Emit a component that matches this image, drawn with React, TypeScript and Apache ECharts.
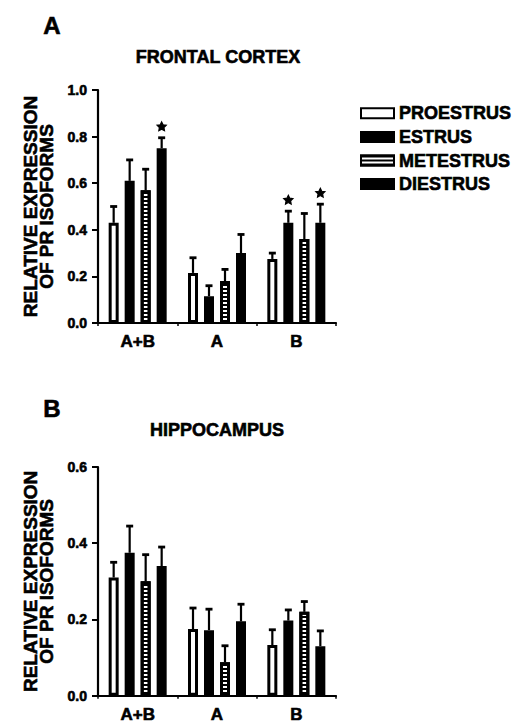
import React, { useEffect, useRef } from 'react';
import * as echarts from 'echarts';

const FONT = "'Liberation Sans', Arial, Helvetica, sans-serif";

const categories = ['A+B', 'A', 'B'];
const stages = ['PROESTRUS', 'ESTRUS', 'METESTRUS', 'DIESTRUS'];

// Frontal cortex: means and upper SEM
const frontalProestrus = [0.43, 0.215, 0.275];
const frontalEstrus = [0.61, 0.115, 0.43];
const frontalMetestrus = [0.57, 0.18, 0.36];
const frontalDiestrus = [0.75, 0.3, 0.43];
const frontalProestrusErr = [0.07, 0.065, 0.025];
const frontalEstrusErr = [0.09, 0.045, 0.05];
const frontalMetestrusErr = [0.09, 0.05, 0.11];
const frontalDiestrusErr = [0.045, 0.08, 0.08];
const frontalProestrusSig = [0, 0, 0];
const frontalEstrusSig = [0, 0, 1];
const frontalMetestrusSig = [0, 0, 0];
const frontalDiestrusSig = [1, 0, 1];

// Hippocampus: means and upper SEM
const hippoProestrus = [0.31, 0.175, 0.133];
const hippoEstrus = [0.375, 0.172, 0.197];
const hippoMetestrus = [0.3, 0.088, 0.22];
const hippoDiestrus = [0.34, 0.195, 0.13];
const hippoProestrusErr = [0.04, 0.055, 0.04];
const hippoEstrusErr = [0.07, 0.055, 0.028];
const hippoMetestrusErr = [0.07, 0.043, 0.027];
const hippoDiestrusErr = [0.05, 0.045, 0.04];
const noSig = [0, 0, 0];

const frontalYTicks = { min: 0, max: 1.0, interval: 0.2 };
const hippoYTicks = { min: 0, max: 0.6, interval: 0.2 };

const BAR_W = 10;
const BAR_GAP = 0.6;
const HEAVY = { textBorderColor: '#000', textBorderWidth: 0.6 };

const stageStyles: any[] = [
  { color: '#ffffff', borderColor: '#000', borderWidth: 3 },
  { color: '#000000', borderColor: '#000', borderWidth: 3 },
  {
    color: '#ffffff',
    borderColor: '#000',
    borderWidth: 3,
    decal: {
      symbol: 'rect',
      symbolSize: 1,
      dashArrayX: [1, 0],
      dashArrayY: [2, 2],
      rotation: 0,
      color: '#000000',
      backgroundColor: null,
    },
  },
  { color: '#000000', borderColor: '#000', borderWidth: 3 },
];

function errRender(stageIdx: number) {
  return (params: any, api: any) => {
    const cat = api.value(0);
    const mean = api.value(1);
    const hi = api.value(2);
    const sig = api.value(3);
    const base = api.coord([cat, mean]);
    const top = api.coord([cat, hi]);
    const step = BAR_W * (1 + BAR_GAP);
    const x = base[0] + (stageIdx - 1.5) * step;
    const children: any[] = [
      {
        type: 'line',
        shape: { x1: x, y1: base[1], x2: x, y2: top[1] },
        style: { stroke: '#000', lineWidth: 2.2 },
      },
      {
        type: 'line',
        shape: { x1: x - 3.5, y1: top[1], x2: x + 3.5, y2: top[1] },
        style: { stroke: '#000', lineWidth: 2.8 },
      },
    ];
    if (sig) {
      const cy = top[1] - 11;
      const pts: number[][] = [];
      for (let k = 0; k < 10; k++) {
        const r = k % 2 ? 2.4 : 4.8;
        const a = -Math.PI / 2 + (k * Math.PI) / 5;
        pts.push([x + r * Math.cos(a), cy + r * Math.sin(a)]);
      }
      children.push({
        type: 'polygon',
        shape: { points: pts },
        style: { fill: '#000', stroke: '#000', lineWidth: 1.2 },
      });
    }
    return { type: 'group', children };
  };
}

function buildSeries(
  gridIdx: number,
  means: number[][],
  errs: number[][],
  sigs: number[][]
) {
  const out: any[] = [];
  means.forEach((m, i) => {
    out.push({
      type: 'bar',
      name: stages[i],
      xAxisIndex: gridIdx,
      yAxisIndex: gridIdx,
      data: m,
      barWidth: BAR_W,
      barGap: BAR_GAP * 100 + '%',
      itemStyle: stageStyles[i],
      emphasis: { disabled: true },
    });
  });
  means.forEach((m, i) => {
    out.push({
      type: 'custom',
      xAxisIndex: gridIdx,
      yAxisIndex: gridIdx,
      renderItem: errRender(i),
      encode: { x: 0, y: [1, 2] },
      data: m.map((v, j) => [j, v, v + errs[i][j], sigs[i][j]]),
      z: 3,
      silent: true,
    });
  });
  return out;
}

function xAxis(gridIdx: number) {
  return {
    type: 'category',
    gridIndex: gridIdx,
    data: categories,
    axisLine: { lineStyle: { color: '#000', width: 2.2 } },
    axisTick: { show: true, length: 3, lineStyle: { color: '#000', width: 1.5 } },
    axisLabel: {
      color: '#000',
      fontSize: 17,
      fontWeight: 'bold',
      fontFamily: FONT,
      margin: 10,
      ...HEAVY,
    },
  };
}

function yAxis(gridIdx: number, ticks: any) {
  return {
    type: 'value',
    gridIndex: gridIdx,
    min: ticks.min,
    max: ticks.max,
    interval: ticks.interval,
    name: 'RELATIVE EXPRESSION\nOF PR ISOFORMS',
    nameLocation: 'middle',
    nameRotate: 90,
    nameGap: 44,
    nameTextStyle: {
      color: '#000',
      fontSize: 19,
      fontWeight: 'bold',
      fontFamily: FONT,
      lineHeight: 16,
      ...HEAVY,
    },
    axisLine: { show: true, lineStyle: { color: '#000', width: 2.2 } },
    axisTick: { show: true, length: 6, lineStyle: { color: '#000', width: 2 } },
    splitLine: { show: false },
    axisLabel: {
      color: '#000',
      fontSize: 14,
      fontWeight: 'bold',
      fontFamily: FONT,
      margin: 11,
      formatter: (v: number) => v.toFixed(1),
      ...HEAVY,
    },
  };
}

export default function App() {
  const ref = useRef<HTMLDivElement>(null);
  useEffect(() => {
    document.body.style.margin = '0';
    const chart = echarts.init(ref.current!, null, { renderer: 'svg' });
    const option: any = {
      animation: false,
      backgroundColor: '#ffffff',
      textStyle: { fontFamily: FONT },
      grid: [
        { left: 98, top: 90, width: 238, height: 233 },
        { left: 98, top: 467, width: 238, height: 231 },
      ],
      xAxis: [xAxis(0), xAxis(1)],
      yAxis: [yAxis(0, frontalYTicks), yAxis(1, hippoYTicks)],
      legend: {
        data: stages,
        orient: 'vertical',
        left: 355,
        top: 99,
        itemWidth: 33,
        itemHeight: 10,
        itemGap: 5,
        icon: 'rect',
        selectedMode: false,
        textStyle: {
          color: '#000',
          fontSize: 18,
          fontWeight: 'bold',
          fontFamily: FONT,
          ...HEAVY,
        },
      },
      graphic: [
        {
          type: 'text',
          left: 43,
          top: 13,
          style: { text: 'A', fill: '#000', font: `bold 24px ${FONT}`, stroke: '#000', lineWidth: 0.6 },
        },
        {
          type: 'text',
          x: 218,
          y: 57,
          style: {
            text: 'FRONTAL CORTEX',
            fill: '#000',
            font: `bold 18px ${FONT}`,
            align: 'center',
            verticalAlign: 'middle',
            stroke: '#000',
            lineWidth: 0.6,
          },
        },
        {
          type: 'text',
          left: 43,
          top: 396,
          style: { text: 'B', fill: '#000', font: `bold 24px ${FONT}`, stroke: '#000', lineWidth: 0.6 },
        },
        {
          type: 'text',
          x: 217,
          y: 430,
          style: {
            text: 'HIPPOCAMPUS',
            fill: '#000',
            font: `bold 18px ${FONT}`,
            align: 'center',
            verticalAlign: 'middle',
            stroke: '#000',
            lineWidth: 0.6,
          },
        },
      ],
      series: [
        ...buildSeries(
          0,
          [frontalProestrus, frontalEstrus, frontalMetestrus, frontalDiestrus],
          [frontalProestrusErr, frontalEstrusErr, frontalMetestrusErr, frontalDiestrusErr],
          [frontalProestrusSig, frontalEstrusSig, frontalMetestrusSig, frontalDiestrusSig]
        ),
        ...buildSeries(
          1,
          [hippoProestrus, hippoEstrus, hippoMetestrus, hippoDiestrus],
          [hippoProestrusErr, hippoEstrusErr, hippoMetestrusErr, hippoDiestrusErr],
          [noSig, noSig, noSig, noSig]
        ),
      ],
    };
    chart.setOption(option);
    return () => chart.dispose();
  }, []);
  return (
    <div
      ref={ref}
      style={{ width: 517, height: 723, background: '#fff' }}
    />
  );
}
